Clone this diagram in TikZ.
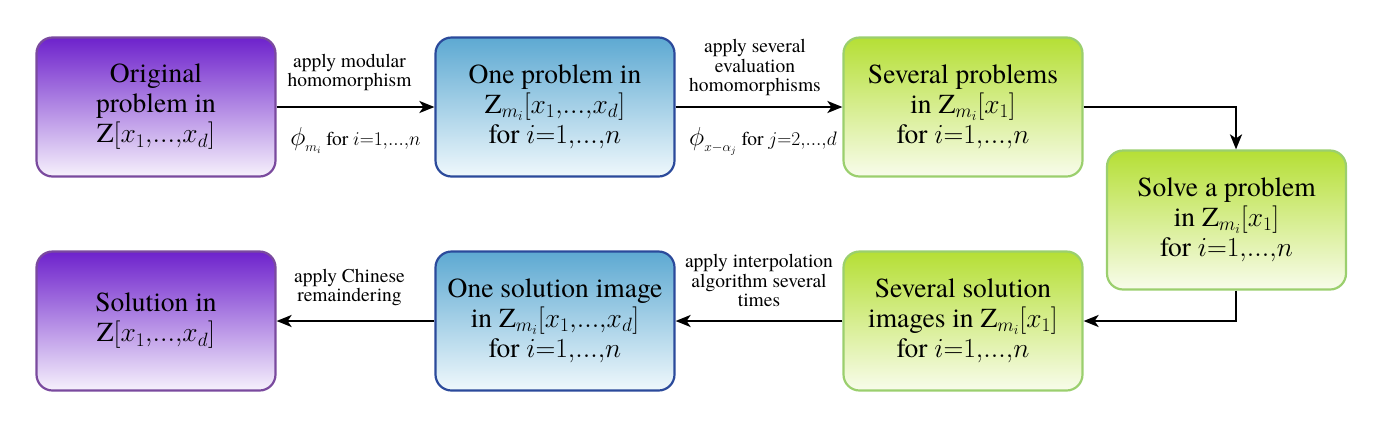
\RequirePackage{fix-cm}
\documentclass[tikz,border=0pt]{standalone}
\usepackage{fontspec}
\setmainfont{texgyretermes-regular.otf}
\usetikzlibrary{arrows.meta}
\definecolor{purtop}{HTML}{6E22CC}
\definecolor{purbot}{HTML}{F6F1FC}
\definecolor{purdraw}{HTML}{7A4A9E}
\definecolor{blutop}{HTML}{5DA9D2}
\definecolor{blubot}{HTML}{EFF8FC}
\definecolor{bludraw}{HTML}{2B4A9B}
\definecolor{grntop}{HTML}{B5DF35}
\definecolor{grnbot}{HTML}{F8FCEB}
\definecolor{grndraw}{HTML}{9BCF6E}
\newcommand{\rng}{1{,}...{,}}
\newcommand{\bigphi}{\mbox{\fontsize{26}{26}\selectfont$\phi$}}
\begin{document}
\begin{tikzpicture}[x=1pt,y=-1pt,
  box/.style={rounded corners=16pt, line width=2.2pt, minimum width=239pt,
    minimum height=139pt, align=center, inner sep=0pt,
    font=\fontsize{27.5}{30}\selectfont},
  purbox/.style={box, draw=purdraw, top color=purtop, bottom color=purbot},
  blubox/.style={box, draw=bludraw, top color=blutop, bottom color=blubot},
  grnbox/.style={box, draw=grndraw, top color=grntop, bottom color=grnbot},
  arr/.style={line width=2.4pt, -{Stealth[length=15pt,width=12pt,inset=4pt]}},
  lbl/.style={align=center, inner sep=0pt, font=\fontsize{19.5}{19.5}\selectfont}]
\useasboundingbox (0,0) rectangle (1400,424);
% top row
\node[purbox] (b1) at (156,107) {Original\\problem in\\Z$[x_1{,}...{,}x_d]$};
\node[blubox] (b2) at (555,107) {One problem in\\Z$_{m_i}[x_1{,}...{,}x_d]$\\for $i{=}\rng n$};
\node[grnbox] (b3) at (963,107) {Several problems\\in Z$_{m_i}[x_1]$\\for $i{=}\rng n$};
\node[grnbox] (b4) at (1226.5,220) {Solve a problem\\in Z$_{m_i}[x_1]$\\for $i{=}\rng n$};
% bottom row
\node[grnbox] (b6) at (963,321) {Several solution\\images in Z$_{m_i}[x_1]$\\for $i{=}\rng n$};
\node[blubox] (b5) at (555,321) {One solution image\\in Z$_{m_i}[x_1{,}...{,}x_d]$\\for $i{=}\rng n$};
\node[purbox] (b7) at (156,321) {Solution in\\Z$[x_1{,}...{,}x_d]$};
% connectors
\draw[arr] (b1) -- node[lbl, above=15pt, xshift=-6pt] (l1) {apply modular\\homomorphism}
  node[lbl, below=19pt] (l2) {$\bigphi_{m_i}$ for $i{=}\rng n$} (b2);
\draw[arr] (b2) -- node[lbl, above=10pt, xshift=-4pt] (l3) {apply several\\evaluation\\homomorphisms}
  node[lbl, below=19pt, xshift=4pt] (l4) {$\bigphi_{x-\alpha_j}$ for $j{=}2{,}...{,}d$} (b3);
\draw[arr] (b3.east) -| ([xshift=9.5pt]b4.north);
\draw[arr] ([xshift=9.5pt]b4.south) |- (b6.east);
\draw[arr] (b6) -- node[lbl, above=13pt] (l5) {apply interpolation\\algorithm several\\times} (b5);
\draw[arr] (b5) -- node[lbl, above=14pt, xshift=-6pt] (l6) {apply Chinese\\remaindering} (b7);
\end{tikzpicture}
\end{document}
